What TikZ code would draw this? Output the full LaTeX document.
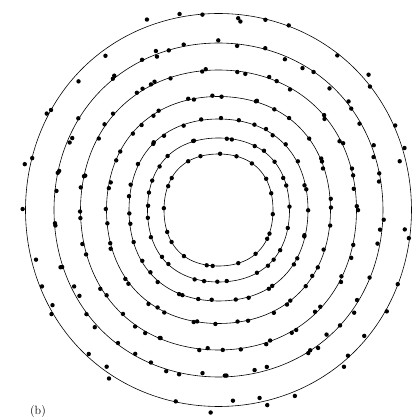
\documentclass[tikz,border=0pt]{standalone}
\usepackage{tikz}

\begin{document}
\begin{tikzpicture}[x=1pt, y=1pt,
                    ring/.style={line width=0.6pt},
                    dot/.style={fill=black}]

\useasboundingbox (0,0) rectangle (420,420);
\coordinate (c) at (218.5,210);
\pgfmathsetseed{4711}

% Rings and points
\begin{scope}[shift={(c)}]
\foreach \rx/\ry/\sq/\num/\spr in {193/196.5/0.004/40/0.035, 164.5/167/0.006/56/0.02,
    138/140/0.01/52/0.014, 112/113.5/0.013/44/0.014, 89.5/91/0.016/36/0.012,
    71/72/0.018/28/0.01, 54.5/56/0.02/20/0.006}{
  \draw[ring] plot[domain=0:360, samples=145, smooth]
    ({\rx*(1+\sq*(1-cos(4*\x)))*cos(\x)},
     {\ry*(1+\sq*(1-cos(4*\x)))*sin(\x)}) -- cycle;
  \foreach \i in {1,...,\num}{
    \pgfmathsetmacro\ang{\i*(360/\num)+7*rand}
    \pgfmathsetmacro\fac{(1+\spr*rand)*(1+\sq*(1-cos(4*\ang)))}
    \pgfmathsetmacro\px{\fac*\rx*cos(\ang)}
    \pgfmathsetmacro\py{\fac*\ry*sin(\ang)}
    \fill[dot] (\px,\py) circle (2.2pt);
  }
}
\end{scope}

% Label
\node (lbl) at (38,8) {\large (b)};

\end{tikzpicture}
\end{document}
